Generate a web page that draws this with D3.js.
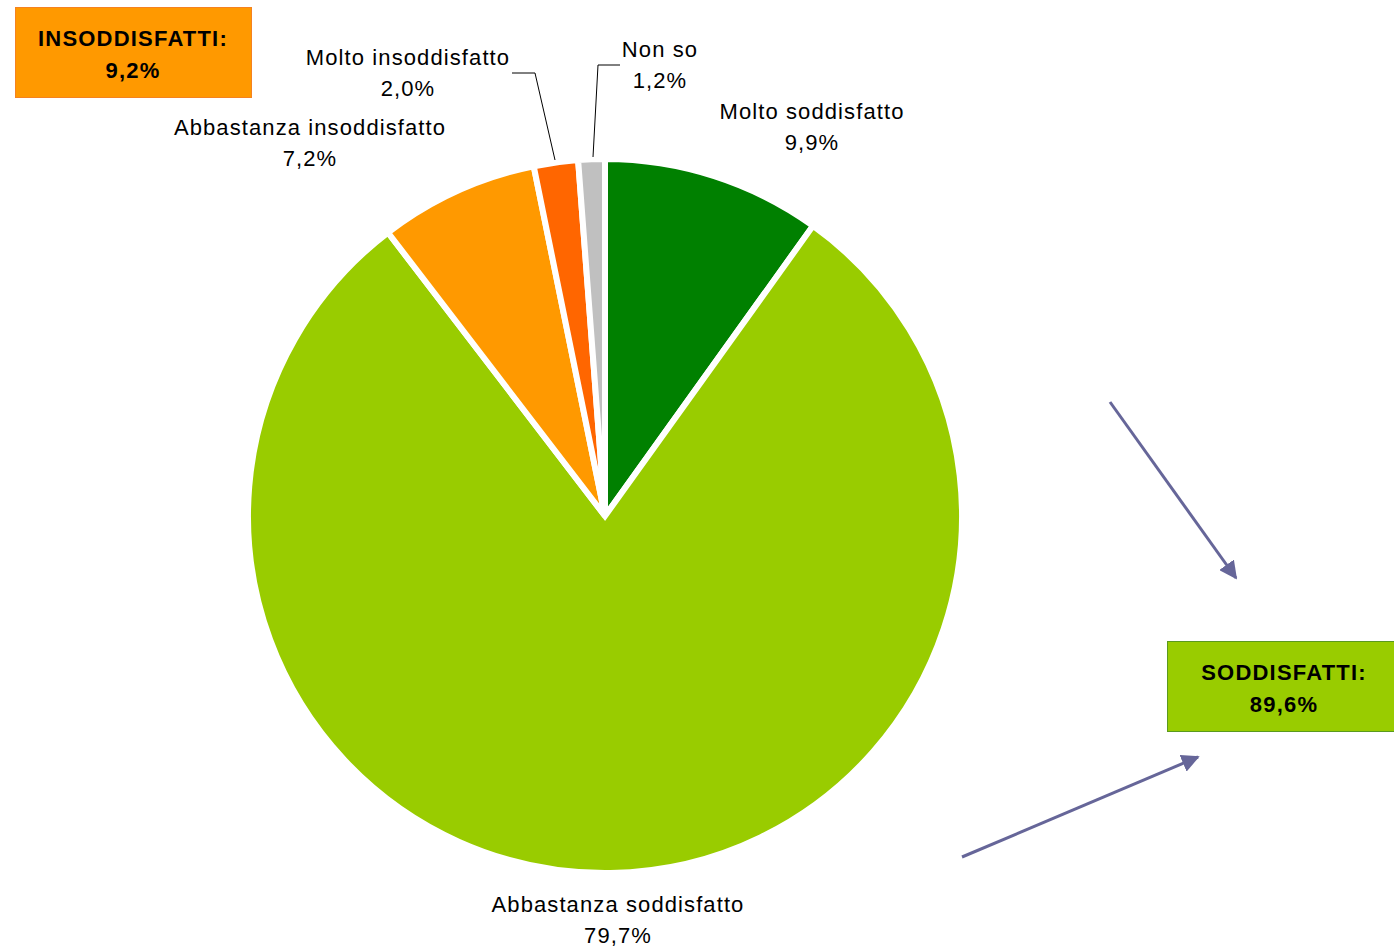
<!DOCTYPE html>
<html><head><meta charset="utf-8">
<script src="https://cdn.jsdelivr.net/npm/d3@7"></script>
<style>body{margin:0;background:#fff}svg{display:block}text{font-family:"Liberation Sans",Arial,sans-serif}</style>
</head><body>
<svg id="c" width="1394" height="947"></svg>
<script>
const categories = ["Molto soddisfatto","Abbastanza soddisfatto","Abbastanza insoddisfatto","Molto insoddisfatto","Non so"];
const values = [9.9, 79.7, 7.2, 2.0, 1.2];
const valueLabels = ["9,9%","79,7%","7,2%","2,0%","1,2%"];
const colors = ["#008000","#99CC00","#FF9900","#FF6600","#C0C0C0"];
const groupLabels = ["INSODDISFATTI:","SODDISFATTI:"];
const groupValues = ["9,2%","89,6%"];

const svg = d3.select("#c");
const cx = 605, cy = 516, R = 357;
const pie = d3.pie().sort(null).value(d => d)(values);
const arc = d3.arc().innerRadius(0).outerRadius(R);
const g = svg.append("g").attr("transform", `translate(${cx},${cy})`);
g.selectAll("path").data(pie).join("path")
  .attr("d", arc).attr("fill", (d,i) => colors[i])
  .attr("stroke", "#fff").attr("stroke-width", 6).attr("stroke-linejoin","miter");

// labels
const labelPos = [[812,111],[618,904],[310,127],[408,57],[660,49]];
const lab = svg.append("g").attr("font-size", 22).attr("letter-spacing", 1.1).attr("fill", "#000").attr("text-anchor","middle");
categories.forEach((c,i) => {
  const [x,y] = labelPos[i];
  const t = lab.append("text").attr("x", x).attr("y", y + 8);
  t.append("tspan").attr("x", x).text(c);
  t.append("tspan").attr("x", x).attr("dy", 31).text(valueLabels[i]);
});

// leader lines
const leaders = [
  [[512,73],[535,73],[555,160]],
  [[620,65],[598,65],[593,157]]
];
leaders.forEach(pts => svg.append("path").attr("d", d3.line()(pts)).attr("fill","none").attr("stroke","#000").attr("stroke-width",1));

// group boxes
const boxes = [
  {x:15.5,y:7.5,w:236,h:90,fill:"#FF9900",stroke:"#F58220",tx:133},
  {x:1167.5,y:641.5,w:240,h:90,fill:"#99CC00",stroke:"#5A9A1E",tx:1284}
];
boxes.forEach((b,i) => {
  svg.append("rect").attr("x",b.x).attr("y",b.y).attr("width",b.w).attr("height",b.h)
    .attr("fill",b.fill).attr("stroke",b.stroke).attr("stroke-width",1);
  const t = svg.append("text").attr("text-anchor","middle").attr("font-weight","bold").attr("font-size",22)
    .attr("letter-spacing",1.2).attr("fill","#000");
  t.append("tspan").attr("x",b.tx).attr("y",b.y+38).text(groupLabels[i]);
  t.append("tspan").attr("x",b.tx).attr("y",b.y+70).text(groupValues[i]);
});

// arrows
const defs = svg.append("defs");
defs.append("marker").attr("id","ah").attr("viewBox","0 0 10 10").attr("refX",9).attr("refY",5)
  .attr("markerWidth",6).attr("markerHeight",6).attr("markerUnits","strokeWidth").attr("orient","auto")
  .append("path").attr("d","M0,0 L10,5 L0,10 z").attr("fill","#666699");
const arrows = [[[1110,402],[1236,578]],[[962,857],[1198,757]]];
arrows.forEach(a => svg.append("line").attr("x1",a[0][0]).attr("y1",a[0][1]).attr("x2",a[1][0]).attr("y2",a[1][1])
  .attr("stroke","#666699").attr("stroke-width",3).attr("marker-end","url(#ah)"));
</script>
</body></html>
